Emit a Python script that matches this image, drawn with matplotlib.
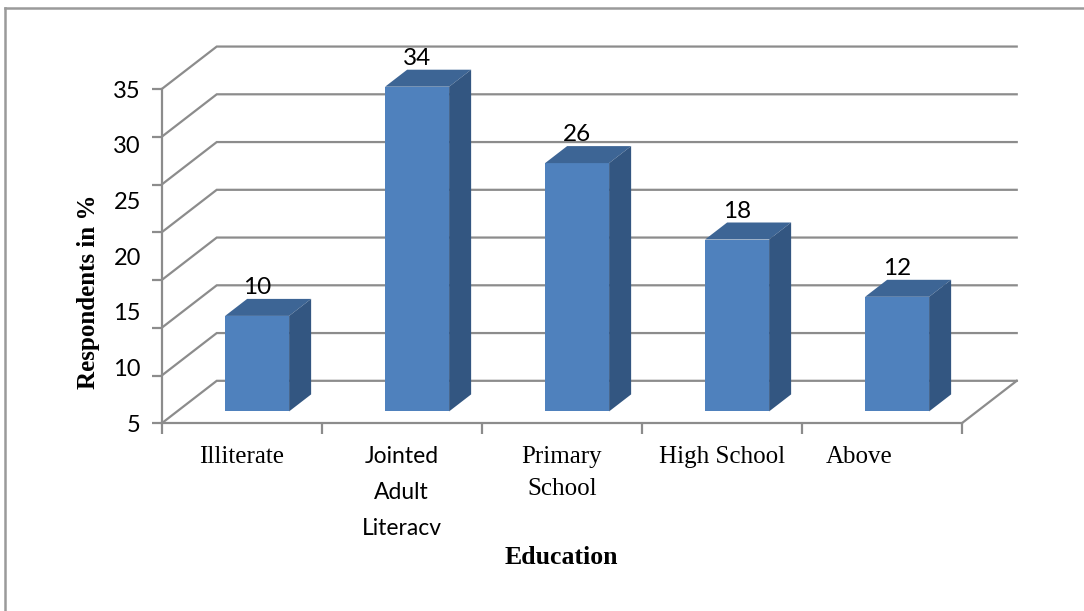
import numpy as np
import matplotlib
matplotlib.use('Agg')
import matplotlib.pyplot as plt
from matplotlib.patches import Polygon
from matplotlib.lines import Line2D
from matplotlib.transforms import ScaledTranslation

categories = ['Illiterate', 'Jointed\nAdult\nLiteracv', 'Primary\nSchool', 'High School', 'Above']
values = [10, 34, 26, 18, 12]
grid_values = [0, 5, 10, 15, 20, 25, 30, 35]
tick_labels = ['5', '10', '15', '20', '25', '30', '35']

# oblique box: full depth offset of the back wall, in data units
DX, DY = 0.344, 4.45
BAR_FRONT, BAR_DEPTH, BAR_W = 0.28, 0.40, 0.4

front_c, top_c, side_c = '#4f81bd', '#3d6595', '#335681'
grid_c = '#8c8c8c'

plt.rcParams['font.family'] = ['Liberation Serif', 'DejaVu Serif']

W, H = 1084, 611
fig = plt.figure(figsize=(W / 100, H / 100), dpi=100)
ax = fig.add_axes([161.7 / W, (H - 423.3) / H, 5.4 * 160 / W, 40 * 9.55 / H])
ax.set_xlim(-0.5, 4.9)
ax.set_ylim(0, 40)

# walls: gridlines on the back wall, joined to the front axis by diagonals
for g in grid_values:
    ax.plot([-0.5, -0.5 + DX, 4.5 + DX], [g, g + DY, g + DY], color=grid_c,
            lw=1.6, zorder=1, clip_on=False, solid_joinstyle='miter')
ax.plot([4.5, 4.5 + DX], [0, DY], color=grid_c, lw=1.6, zorder=1, clip_on=False)

# bars: front face as regular bars, top and side as polygons
x = np.arange(len(categories))
xc = x + BAR_FRONT * DX
y0 = BAR_FRONT * DY
ax.bar(xc, values, width=BAR_W, bottom=y0, color=front_c, zorder=3)
bx, by = BAR_DEPTH * DX, BAR_DEPTH * DY
for xi, v in zip(xc, values):
    l, r, t = xi - BAR_W / 2, xi + BAR_W / 2, y0 + v
    ax.add_patch(Polygon([(l, t), (r, t), (r + bx, t + by), (l + bx, t + by)],
                         closed=True, facecolor=top_c, edgecolor='none', zorder=3))
    ax.add_patch(Polygon([(r, y0), (r + bx, y0 + by), (r + bx, t + by), (r, t)],
                         closed=True, facecolor=side_c, edgecolor='none', zorder=3))
    ax.annotate(str(v), (xi, t + by), xytext=(0, 0.5), textcoords='offset points',
                ha='center', va='bottom', fontsize=17.5, family=['Lato', 'DejaVu Sans'],
                zorder=4)

for s in ['top', 'right']:
    ax.spines[s].set_visible(False)
ax.spines['left'].set_bounds(0, 35)
ax.spines['bottom'].set_bounds(-0.5, 4.5)
for s in ['left', 'bottom']:
    ax.spines[s].set_color(grid_c)
    ax.spines[s].set_linewidth(1.6)

# value axis: tick marks on the gridlines, labels spread over the axis
ax.yaxis.remove_overlapping_locs = False
ax.set_yticks(grid_values)
ax.set_yticklabels([])
label_pos = [(int(t) - 5) * 35 / 30 for t in tick_labels]
ax.set_yticks(label_pos, tick_labels, minor=True)
ax.tick_params(axis='y', which='major', length=7, width=1.6, color=grid_c)
ax.tick_params(axis='y', which='minor', length=0, pad=15, labelsize=17)
for lab in ax.get_yticklabels(minor=True):
    lab.set_family(['Lato', 'DejaVu Sans'])

# category axis
ax.set_xticks(np.arange(-0.5, 5, 1.0))
ax.set_xticklabels([])
ax.set_xticks(x, categories, minor=True)
ax.tick_params(axis='x', which='major', length=8, width=1.6, color=grid_c)
ax.tick_params(axis='x', which='minor', length=0, pad=16, labelsize=18)
xlabs = ax.get_xticklabels(minor=True)
for lab in xlabs:
    lab.set_linespacing(1.6)
xlabs[1].set_family(['Lato', 'DejaVu Sans'])
xlabs[1].set_fontsize(16.5)
xlabs[1].set_linespacing(1.9)
xlabs[4].set_transform(xlabs[4].get_transform() + ScaledTranslation(-0.23, 0, fig.dpi_scale_trans))

ax.set_ylabel('Respondents in %', fontsize=18, fontweight='bold', va='center')
ax.yaxis.set_label_coords(-0.0853, 0.344)
ax.set_xlabel('Education', fontsize=18.5, fontweight='bold', va='center')
ax.xaxis.set_label_coords(0.463, -0.3526)

# chart frame
fig.add_artist(Line2D([4.5 / W, 4.5 / W], [0, 1 - 7.5 / H], transform=fig.transFigure,
                      color='#9a9a9a', lw=1.8))
fig.add_artist(Line2D([4.5 / W, 1], [1 - 7.5 / H, 1 - 7.5 / H], transform=fig.transFigure,
                      color='#9a9a9a', lw=1.8))

fig.savefig('out.png', dpi=100)
